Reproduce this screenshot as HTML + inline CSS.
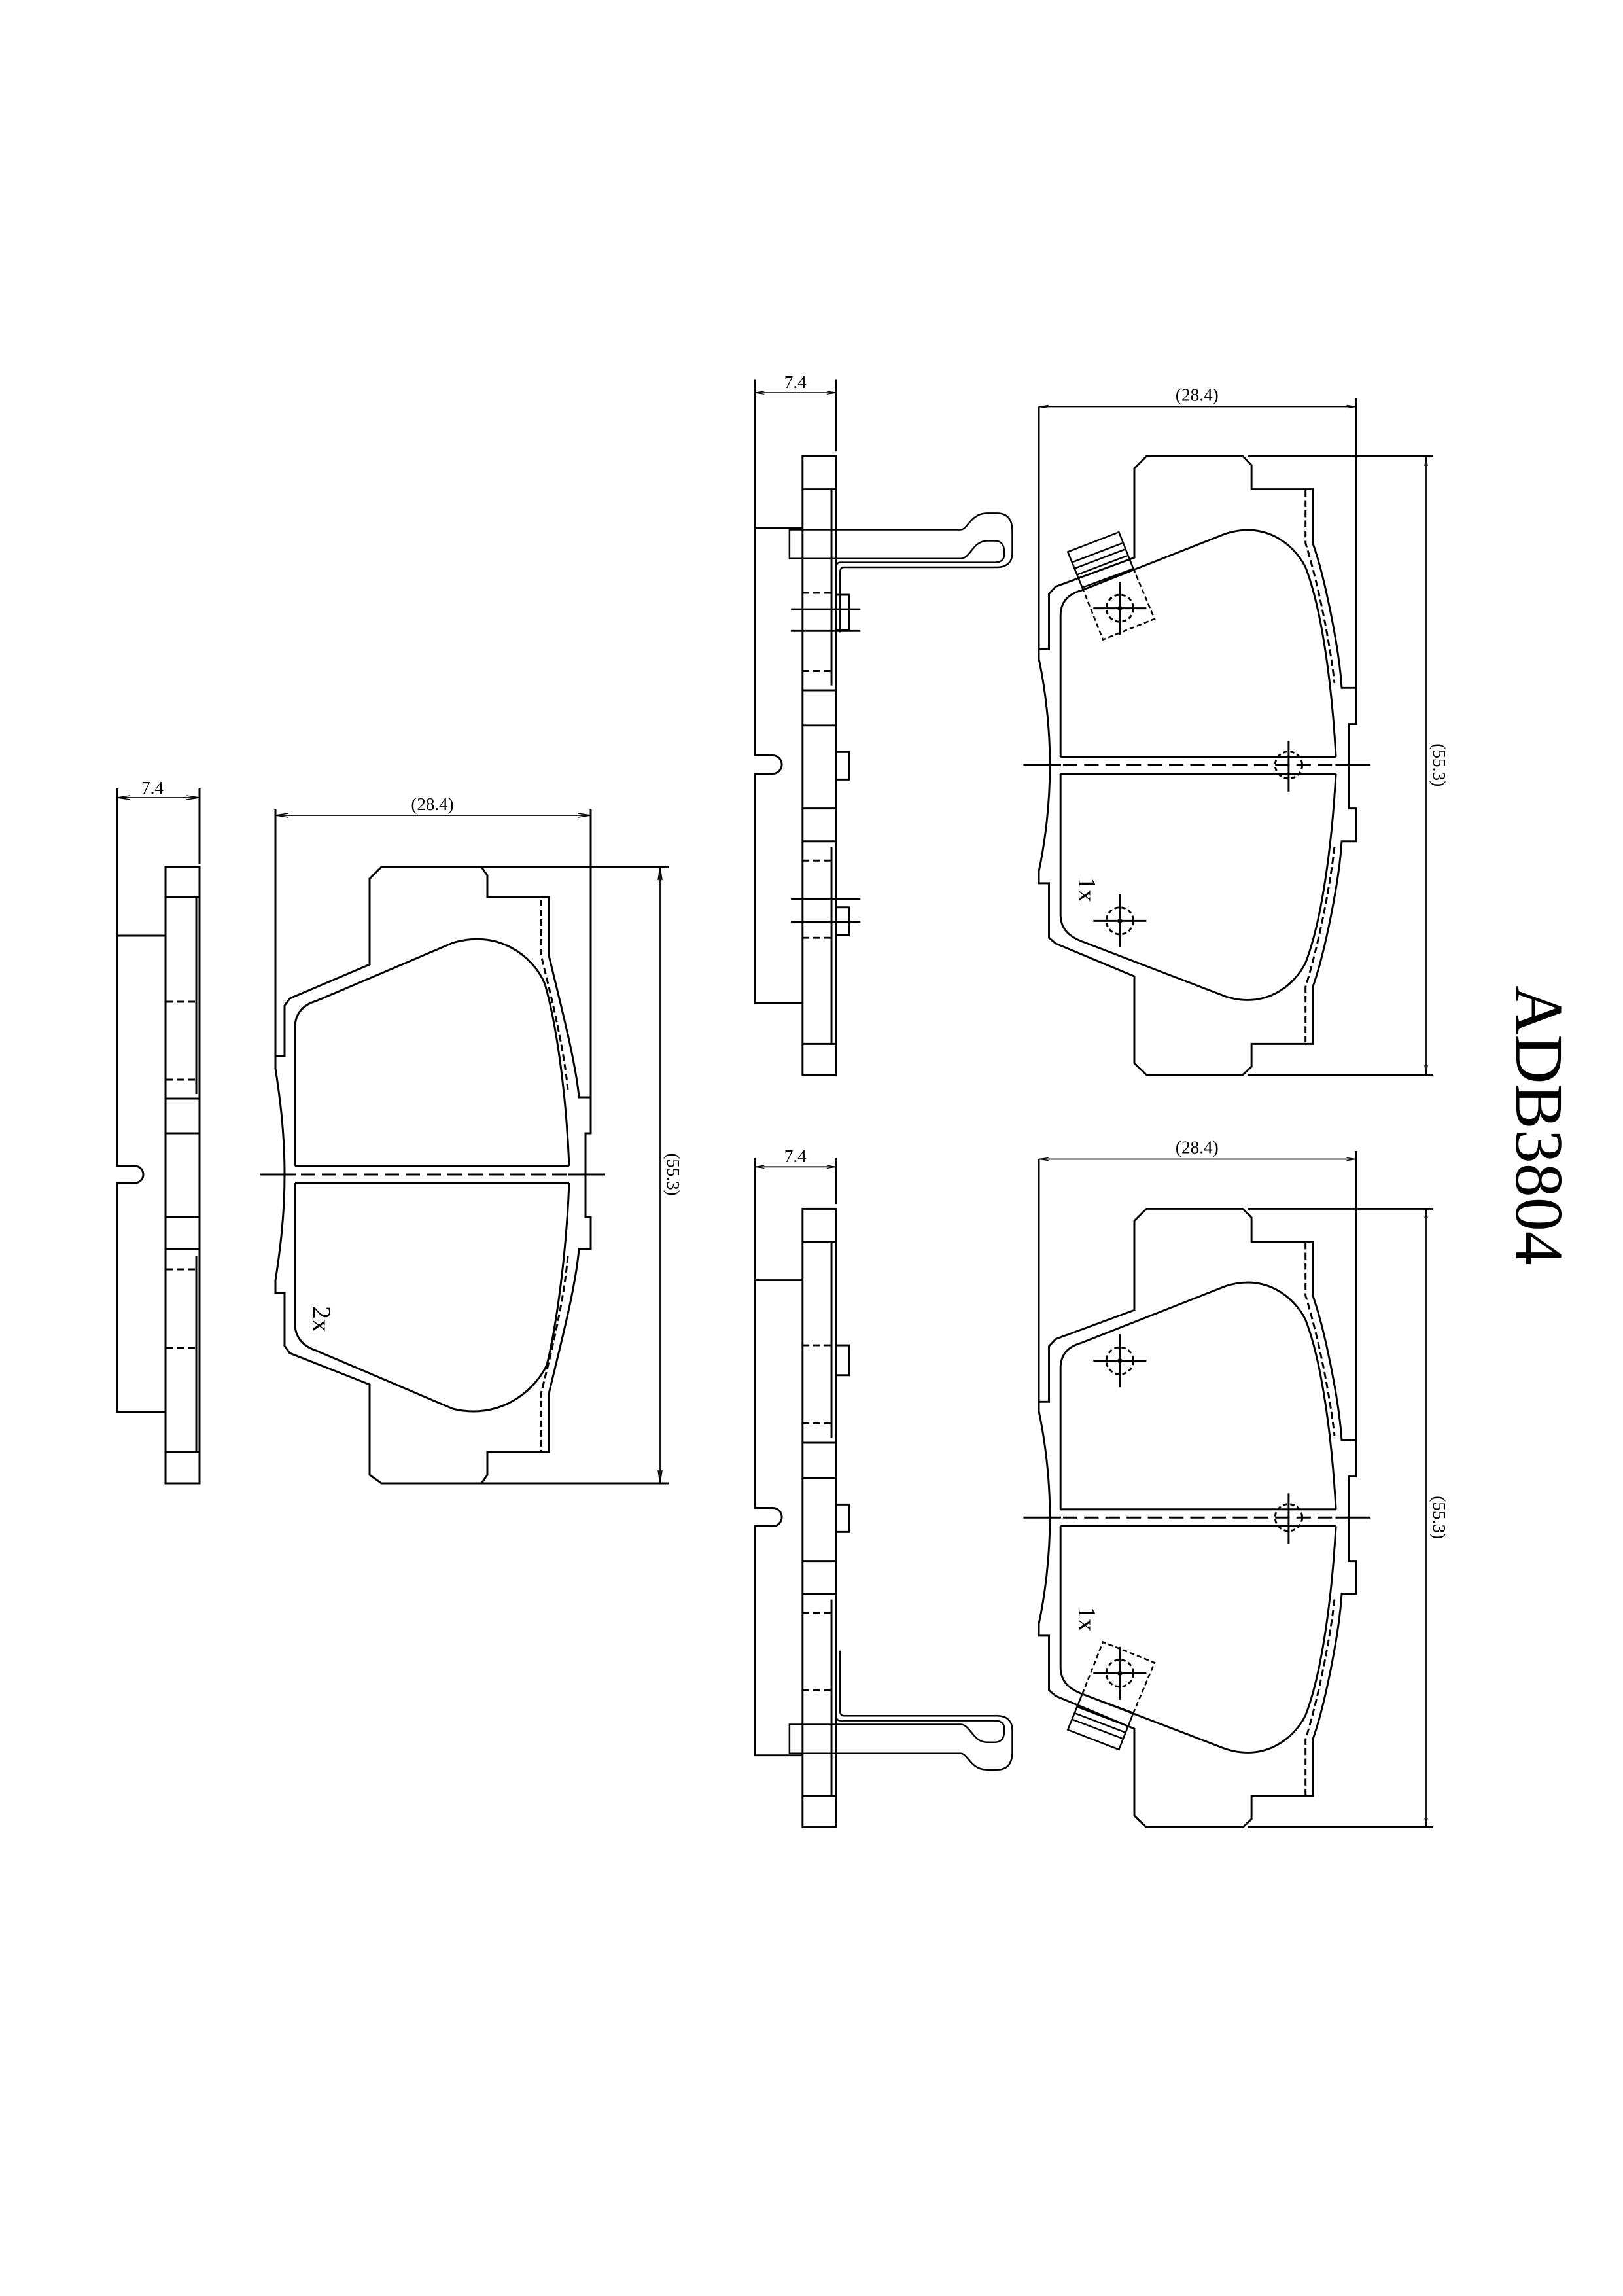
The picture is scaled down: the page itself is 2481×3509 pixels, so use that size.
<!DOCTYPE html>
<html><head><meta charset="utf-8"><style>
html,body{margin:0;padding:0;background:#fff;}
svg{display:block;}
text{font-family:"Liberation Serif",serif;fill:#000;}
</style></head><body>
<svg width="2481" height="3509" viewBox="0 0 2481 3509" xmlns="http://www.w3.org/2000/svg">
<defs>
<marker id="ar" viewBox="0 0 20 8" refX="20" refY="4" markerWidth="20" markerHeight="8" markerUnits="userSpaceOnUse" orient="auto-start-reverse">
<path d="M0,1 L20,4 L0,7" fill="none" stroke="#000" stroke-width="1.5"/>
</marker>
<g id="pad" fill="none" stroke="#000" stroke-width="4">
<path d="M885,200 H1085 L1103,218 V268 H1230 V380 C1255,450 1285,600 1290,680 H1320 V755 H1305 V930 H1320 V998 H1290 C1285,1080 1255,1230 1230,1300 V1418 H1103 V1465 L1085,1482 H885 L860,1458 V1278 L697,1210 L683,1198 V1085 H662 V1060 C675,1000 685,920 685,840 C685,760 675,680 662,620 V600 H683 V485 L697,470 L860,410 V225 Z"/>
<path d="M707,823 V530 C707,500 725,485 750,478 L1050,360 C1130,335 1190,380 1215,430 C1250,520 1270,680 1278,823"/>
<path d="M1278,858 C1270,1000 1250,1160 1215,1250 C1190,1300 1130,1345 1050,1320 L750,1205 C725,1195 707,1180 707,1150 V858"/>
<path d="M707,823 H1278 M707,858 H1278 M630,840 H708 M1277,840 H1350"/>
<path d="M712,840 H1275" stroke-dasharray="30,14"/>
<path d="M1215,270 V380 C1240,460 1265,580 1275,670 M1275,1010 C1265,1100 1240,1220 1215,1300 V1415" stroke-dasharray="14,7"/>
<circle cx="1180" cy="840" r="28" stroke-dasharray="9,6"/>
<path d="M1180,790 V895"/>
<path d="M662,97 V600 M1320,80 V685 M1095,200 H1480 M1095,1482 H1480"/>
<path d="M1465,200 V1482" stroke-width="2.4" marker-start="url(#ar)" marker-end="url(#ar)"/>
<path d="M662,97 H1320" stroke-width="2.4" marker-start="url(#ar)" marker-end="url(#ar)"/>
</g>
<g id="hole" fill="none" stroke="#000" stroke-width="4">
<circle cx="0" cy="0" r="28" stroke-dasharray="9,6"/>
<path d="M-55,0 H55 M0,-55 V55"/>
<circle cx="0" cy="0" r="3" fill="#000"/>
</g>
<g id="shim" fill="none" stroke="#000" stroke-width="3.4">
<path d="M722,398 L828,357 L858,433 L752,472 Z"/>
<path d="M730,420 L835,380 M735,433 L840,393 M740,446 L845,406"/>
<path d="M752,472 L795,580 L902,537 L858,433" stroke-dasharray="10,6"/>
</g>
<g id="side" fill="none" stroke="#000" stroke-width="4">
<rect x="172" y="200" width="70" height="1282"/>
<path d="M172,268 H242 M172,685 H242 M172,758 H242 M172,930 H242 M172,998 H242 M172,1418 H242"/>
<path d="M232,268 V675 M232,1010 V1418"/>
<path d="M172,483 H232 M172,645 H232 M172,1038 H232 M172,1198 H232" stroke-dasharray="14,8"/>
<path d="M172,348 H73 V820 H110 A19,19 0 0 1 110,858 H73 V1333 H172"/>
<rect x="242" y="813" width="26" height="57"/>
</g>
<g id="clip" fill="none" stroke="#000" stroke-width="3.4">
<rect x="145" y="352" width="27" height="60"/>
<path d="M172,352 H500 C515,352 520,318 555,318 H575 C600,318 607,335 607,355 V400 C607,420 595,430 575,430 H258 C252,430 250,434 250,440 V565"/>
<path d="M172,412 H500 C520,412 525,375 555,375 H570 C585,375 590,385 590,397 V405 C590,415 582,420 570,420 H250 C244,420 242,425 242,430"/>
</g>
</defs>

<!-- LEFT GROUP -->
<g fill="none" stroke="#000" stroke-width="3">
<rect x="253" y="1325" width="52" height="942"/>
<path d="M253,1371 H305 M253,1679 H305 M253,1732 H305 M253,1860 H305 M253,1909 H305 M253,2219 H305"/>
<path d="M300,1371 V1672 M300,1920 V2219"/>
<path d="M253,1531 H300 M253,1650 H300 M253,1940 H300 M253,2060 H300" stroke-dasharray="11,6"/>
<path d="M253,1430 H179 V1782 H206 A13,13 0 0 1 206,1808 H179 V2158 H253"/>
<path d="M179,1205 V1430 M305,1205 V1320"/>
<path d="M179,1219 H305" stroke-width="1.8" marker-start="url(#ar)" marker-end="url(#ar)"/>

<path d="M583,1325 H736 L745,1338 V1371 H839 V1460 C853,1520 880,1620 885,1677 H903 V1732 H895 V1860 H903 V1909 H885 C880,1970 853,2070 839,2130 V2219 H745 V2254 L736,2267 H583 L565,2254 V2116 L443,2068 L435,2057 V1976 H421 V1957 C430,1900 435,1850 435,1795 C435,1740 430,1690 421,1633 V1614 H435 V1537 L443,1526 L565,1474 V1343 Z"/>
<path d="M451,1782 V1570 C451,1548 465,1535 483,1530 L692,1441 C760,1420 815,1460 833,1504 C852,1570 866,1680 870,1782"/>
<path d="M870,1808 C866,1910 852,2020 836,2086 C815,2130 760,2170 692,2153 L483,2064 C465,2058 451,2045 451,2024 V1808"/>
<path d="M451,1782 H870 M451,1808 H870 M397,1795 H452 M869,1795 H925"/>
<path d="M460,1795 H866" stroke-dasharray="22,10"/>
<path d="M827,1375 V1460 C842,1520 862,1600 868,1666 M868,1920 C862,1990 842,2070 827,2130 V2219" stroke-dasharray="10,5"/>
<path d="M421,1237 V1614 M903,1237 V1679 M736,1325 H1023 M736,2267 H1023"/>
<path d="M421,1246 H903" stroke-width="1.8" marker-start="url(#ar)" marker-end="url(#ar)"/>
<path d="M1009,1325 V2267" stroke-width="1.8" marker-start="url(#ar)" marker-end="url(#ar)"/>
</g>
<text x="233" y="1213" font-size="27" text-anchor="middle">7.4</text>
<text x="661" y="1238" font-size="27" text-anchor="middle">(28.4)</text>
<text transform="translate(1020,1795) rotate(90)" font-size="27" text-anchor="middle">(55.3)</text>
<text transform="translate(478,2016) rotate(90)" font-size="40" text-anchor="middle">2x</text>

<!-- TOP RIGHT GROUP -->
<g transform="translate(1100,550) scale(0.7372)">
<use href="#pad"/>
<use href="#side"/>
<use href="#clip"/>
<g fill="none" stroke="#000" stroke-width="4">
<path d="M73,40 V348 M242,40 V190"/>
<path d="M73,68 H242" stroke-width="2.4" marker-start="url(#ar)" marker-end="url(#ar)"/>
<rect x="242" y="487" width="26" height="73"/>
<rect x="242" y="1135" width="26" height="58"/>
<path d="M148,517 H292 M148,562 H292 M148,1118 H292 M148,1165 H292"/>
</g>
<use href="#shim"/>
<use href="#hole" transform="translate(830,515)"/>
<use href="#hole" transform="translate(830,1163)"/>
<text x="157" y="58" font-size="37" text-anchor="middle">7.4</text>
<text x="990" y="85" font-size="37" text-anchor="middle">(28.4)</text>
<text transform="translate(1480,840) rotate(90)" font-size="37" text-anchor="middle">(55.3)</text>
<text transform="translate(745,1098) rotate(90)" font-size="52" text-anchor="middle">1x</text>
</g>

<!-- BOTTOM RIGHT GROUP -->
<g transform="translate(1100,1700) scale(0.7372)">
<use href="#pad"/>
<use href="#side"/>
<use href="#clip" transform="translate(0,1681) scale(1,-1)"/>
<g fill="none" stroke="#000" stroke-width="4">
<path d="M73,95 V345 M242,95 V190"/>
<path d="M73,113 H242" stroke-width="2.4" marker-start="url(#ar)" marker-end="url(#ar)"/>
<rect x="242" y="483" width="26" height="62"/>
</g>
<use href="#shim" transform="translate(0,1678) scale(1,-1)"/>
<use href="#hole" transform="translate(830,515)"/>
<use href="#hole" transform="translate(830,1163)"/>
<text x="157" y="103" font-size="37" text-anchor="middle">7.4</text>
<text x="990" y="85" font-size="37" text-anchor="middle">(28.4)</text>
<text transform="translate(1480,840) rotate(90)" font-size="37" text-anchor="middle">(55.3)</text>
<text transform="translate(745,1050) rotate(90)" font-size="52" text-anchor="middle">1x</text>
</g>

<text transform="translate(2318,1720) rotate(90)" font-size="104" text-anchor="middle">ADB3804</text>
</svg>
</body></html>
